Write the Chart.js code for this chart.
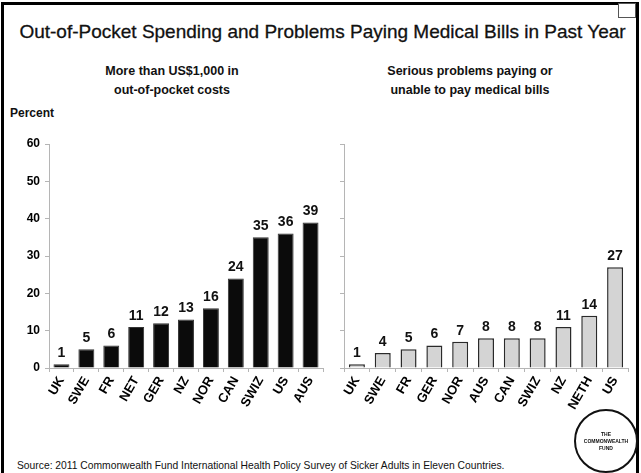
<!DOCTYPE html>
<html lang="en">
  <head>
    <meta charset="UTF-8" />
    <title>Out-of-Pocket Spending</title>
    <script src="https://cdn.jsdelivr.net/npm/chart.js@4.4.0/dist/chart.umd.min.js"></script>
    <style>
      body { margin: 0; width: 641px; height: 473px; overflow: hidden; background: #fff;
             font-family: "Liberation Sans", Arial, sans-serif; color: #111; position: relative; }
      .frame { position: absolute; left: 1px; top: 2px; width: 632px; height: 490px; border: 3px solid #000; }
      .box { position: absolute; left: 618px; top: 3px; width: 16px; height: 13px; border: 1px solid #555; background: #fff; }
      .title { position: absolute; left: 2px; width: 641px; top: 21px; text-align: center; font-size: 19px;
               -webkit-text-stroke: 0.3px #111; }
      .sub { position: absolute; top: 62px; text-align: center; font-size: 12.5px; font-weight: bold; line-height: 19px; }
      .percent { position: absolute; left: 10px; top: 106px; font-size: 12px; font-weight: bold; }
      .source { position: absolute; left: 17px; top: 460px; font-size: 10.3px; }
      .logo { position: absolute; left: 574px; top: 409px; width: 60px; height: 60px; border: 2px solid #111;
              border-radius: 50%; font-size: 5px; font-weight: bold; text-align: center; line-height: 7px;
              display: flex; align-items: center; justify-content: center; }
      canvas { position: absolute; }
    </style>
  </head>
  <body>
    <div class="frame"></div>
    <div class="box"></div>
    <div class="title">Out-of-Pocket Spending and Problems Paying Medical Bills in Past Year</div>
    <div class="sub" style="left:72px;width:200px;">More than US$1,000 in<br />out-of-pocket costs</div>
    <div class="sub" style="left:370px;width:200px;">Serious problems paying or<br />unable to pay medical bills</div>
    <div class="percent">Percent</div>

    <div style="position:absolute;left:0;top:120px;width:330px;height:318px;">
      <canvas id="leftChart" width="330" height="318"></canvas>
    </div>
    <div style="position:absolute;left:330px;top:120px;width:311px;height:318px;">
      <canvas id="rightChart" width="311" height="318"></canvas>
    </div>

    <div class="source">Source: 2011 Commonwealth Fund International Health Policy Survey of Sicker Adults in Eleven Countries.</div>
    <div class="logo"><div>THE<br />COMMONWEALTH<br />FUND</div></div>

    <script>
      // left panel: more than US$1,000 out-of-pocket
      const costCountries = ["UK", "SWE", "FR", "NET", "GER", "NZ", "NOR", "CAN", "SWIZ", "US", "AUS"];
      const costValues = [1, 5, 6, 11, 12, 13, 16, 24, 35, 36, 39];

      // right panel: serious problems paying medical bills
      const billCountries = ["UK", "SWE", "FR", "GER", "NOR", "AUS", "CAN", "SWIZ", "NZ", "NETH", "US"];
      const billValues = [1, 4, 5, 6, 7, 8, 8, 8, 11, 14, 27];

      const yMax = 60;
      const yStep = 10;

      const axisGray = "#b5b5b5";

      // draws the number above every bar
      const valueLabels = {
        id: "valueLabels",
        afterDatasetsDraw(chart) {
          const ctx = chart.ctx;
          const meta = chart.getDatasetMeta(0);
          ctx.save();
          ctx.font = "bold 14px 'Liberation Sans'";
          ctx.fillStyle = "#111";
          ctx.textAlign = "center";
          ctx.textBaseline = "bottom";
          meta.data.forEach((bar, i) => {
            ctx.fillText(chart.data.datasets[0].data[i], bar.x, bar.y - 4);
          });
          ctx.restore();
        }
      };

      function makeChart(id, labels, values, opts) {
        return new Chart(document.getElementById(id), {
          type: "bar",
          data: {
            labels: labels,
            datasets: [{
              data: values,
              backgroundColor: opts.fill,
              borderColor: opts.border,
              borderWidth: opts.borderWidth,
              barPercentage: opts.barPct,
              categoryPercentage: 1
            }]
          },
          options: {
            responsive: false,
            animation: false,
            layout: { padding: { top: 24, right: opts.padRight, left: 0, bottom: 0 } },
            plugins: { legend: { display: false }, tooltip: { enabled: false } },
            scales: {
              x: {
                grid: { drawOnChartArea: false, color: axisGray, tickLength: 4, offset: true },
                border: { color: axisGray, width: 1 },
                ticks: { color: "#000", font: { family: "Liberation Sans", size: 13, weight: "bold" },
                         minRotation: 60, maxRotation: 60, padding: 2 },
                afterFit(scale) { scale.height = 70; }
              },
              y: {
                min: 0,
                max: yMax,
                grid: { drawOnChartArea: false, color: axisGray, tickLength: 4 },
                border: { color: axisGray, width: 1 },
                ticks: { display: opts.showY, stepSize: yStep, color: "#000",
                         font: { family: "Liberation Sans", size: 12, weight: "bold" }, padding: 5 },
                afterFit(scale) { scale.width = opts.yWidth; }
              }
            }
          },
          plugins: [valueLabels]
        });
      }

      makeChart("leftChart", costCountries, costValues, {
        fill: "#0b0b0b", border: "#333", borderWidth: 1, barPct: 0.64,
        padRight: 7, yWidth: 49, showY: true
      });
      makeChart("rightChart", billCountries, billValues, {
        fill: "#d4d4d4", border: "#2a2a2a", borderWidth: 1.5, barPct: 0.62,
        padRight: 13, yWidth: 14, showY: false
      });
    </script>
  </body>
</html>
